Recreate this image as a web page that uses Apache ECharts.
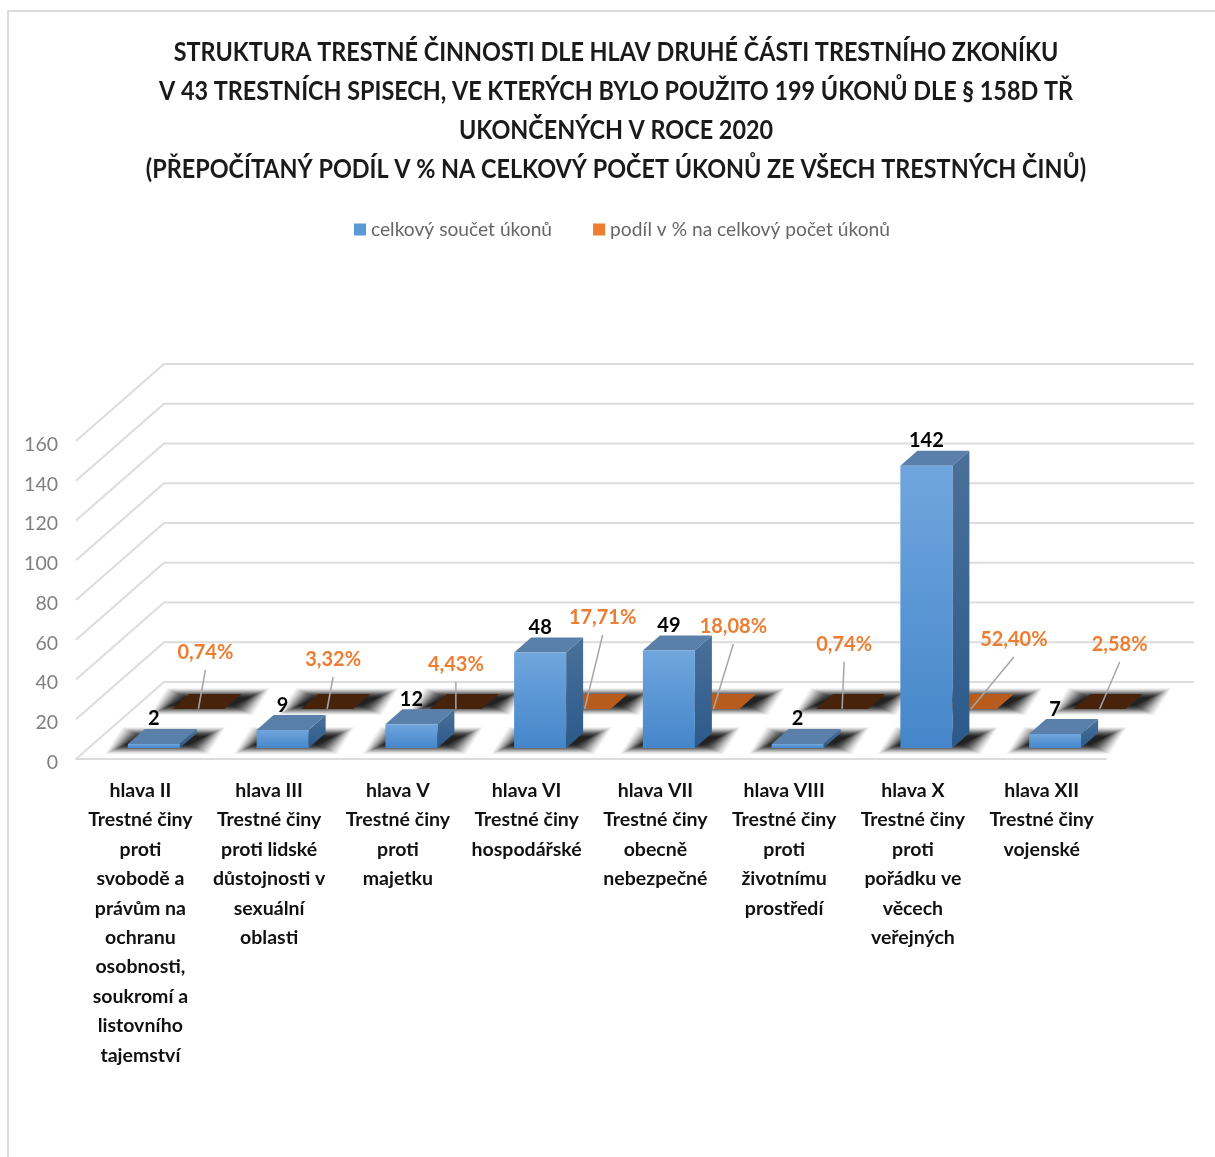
<!DOCTYPE html>
<html><head><meta charset="utf-8">
<style>html,body{margin:0;padding:0;background:#fff}#c{width:1215px;height:1157px}#c canvas{filter:blur(.4px)}</style>
<script src="https://cdn.jsdelivr.net/npm/echarts@6/dist/echarts.min.js"></script>
</head><body><div id="c"></div>
<script>
const titleText = 'STRUKTURA TRESTNÉ ČINNOSTI DLE HLAV DRUHÉ ČÁSTI TRESTNÍHO ZKONÍKU\nV 43 TRESTNÍCH SPISECH, VE KTERÝCH BYLO POUŽITO 199 ÚKONŮ DLE § 158D TŘ\nUKONČENÝCH V ROCE 2020\n(PŘEPOČÍTANÝ PODÍL V % NA CELKOVÝ POČET ÚKONŮ ZE VŠECH TRESTNÝCH ČINŮ)';
const categories = [
 'hlava II\nTrestné činy\nproti\nsvobodě a\nprávům na\nochranu\nosobnosti,\nsoukromí a\nlistovního\ntajemství',
 'hlava III\nTrestné činy\nproti lidské\ndůstojnosti v\nsexuální\noblasti',
 'hlava V\nTrestné činy\nproti\nmajetku',
 'hlava VI\nTrestné činy\nhospodářské',
 'hlava VII\nTrestné činy\nobecně\nnebezpečné',
 'hlava VIII\nTrestné činy\nproti\nživotnímu\nprostředí',
 'hlava X\nTrestné činy\nproti\npořádku ve\nvěcech\nveřejných',
 'hlava XII\nTrestné činy\nvojenské'
];
const totals = [2, 9, 12, 48, 49, 2, 142, 7];
const shares = [0.74, 3.32, 4.43, 17.71, 18.08, 0.74, 52.40, 2.58];
const shareLabels = ['0,74%','3,32%','4,43%','17,71%','18,08%','0,74%','52,40%','2,58%'];
const axisTicks = [0,20,40,60,80,100,120,140,160];
// where each share's callout sits, relative to its floor tile [dx, dy of leader top]
const calloutOffsets = [[7,-39],[6,-32],[0,-27],[18,-74],[20,-65],[2,-47],[43,-52],[20,-47]];

const FONT = 'Lato,"Liberation Sans",sans-serif';
const DEPTH_X = 88, DEPTH_Y = -77;     // floor depth
const BAR_W = 52, SIDE_X = 17, SIDE_Y = -15;
const FRONT = {dx: 13.5, dy: -11};     // front row anchor on the floor
const BACK = {dx: 58, dy: -50};        // back row anchor on the floor

const chart = echarts.init(document.getElementById('c'), null, {renderer:'canvas'});

function poly(points, style, z2){ return {type:'polygon', shape:{points}, style, z2: z2||0, silent:true}; }
function grad(a,b){ return {type:'linear',x:0,y:0,x2:0,y2:1,colorStops:[{offset:0,color:a},{offset:1,color:b}]}; }
function renderGrid(params, api){
  const v = api.value(0), p = api.coord([0, v]), r = params.coordSys;
  const xL = r.x, y = p[1];
  return {type:'polyline', silent:true, z2:-5,
    shape:{points:[[xL,y],[xL+DEPTH_X,y+DEPTH_Y],[xL+r.width+DEPTH_X,y+DEPTH_Y]]},
    style:{stroke:'#dcdcdc',lineWidth:2,fill:'none'}};
}
// soft floor shadow: stacked translucent parallelograms that fade outwards
function floorShadow(x,y,z){
  const out = [], layers = 18;
  for (let k = layers; k >= 1; k--) {
    const t = k/layers;
    const px = 4 + t*22, py = -4 + t*10, s = 3;
    const a = 0.03 + (1-t)*0.18;
    out.push(poly([[x-px+s,y+py],[x+BAR_W+px+s,y+py],[x+BAR_W+SIDE_X+px+s,y+SIDE_Y-py],[x+SIDE_X-px+s,y+SIDE_Y-py]],
      {fill:'rgba(10,10,10,'+a+')'},z));
  }
  return out;
}
function renderTotals(params, api){
  const i = api.value(0), v = api.value(1);
  const base = api.coord([i,0]), top = api.coord([i,v]);
  const x = base[0]+FRONT.dx-BAR_W/2, yb = base[1]+FRONT.dy, yt = top[1]+FRONT.dy;
  const x2 = x+BAR_W;
  return {type:'group', children:floorShadow(x,yb,10).concat([
    poly([[x2,yb],[x2+SIDE_X,yb+SIDE_Y],[x2+SIDE_X,yt+SIDE_Y],[x2,yt]],{fill:grad('#4a7099','#2b5a8a')},11),
    poly([[x,yt],[x2,yt],[x2+SIDE_X,yt+SIDE_Y],[x+SIDE_X,yt+SIDE_Y]],{fill:'#5a7fa9'},11),
    {type:'rect',shape:{x,y:yt,width:BAR_W,height:yb-yt},style:{fill:grad('#70a6de','#4586ca')},z2:11,silent:true},
    {type:'text',z2:13,silent:true,style:{text:String(v),x:x+BAR_W/2,y:yt+SIDE_Y-10,align:'center',verticalAlign:'middle',
      fill:'#000',font:'bold 20px '+FONT}}
  ])};
}
function renderShares(params, api){
  const i = api.value(0), v = api.value(1);
  const base = api.coord([i,0]);
  const x = base[0]+BACK.dx-BAR_W/2, y = base[1]+BACK.dy;
  const off = calloutOffsets[i], cx = x+BAR_W/2;
  return {type:'group', children:floorShadow(x,y,0).concat([
    poly([[x,y],[x+BAR_W,y],[x+BAR_W+SIDE_X,y+SIDE_Y],[x+SIDE_X,y+SIDE_Y]],{fill: v>=10 ? '#b85c1e' : '#47230c'},1),
    {type:'line',silent:true,z2:2,shape:{x1:cx,y1:y,x2:cx+off[0],y2:y+off[1]},style:{stroke:'#a6a6a6',lineWidth:1.5}},
    {type:'text',z2:3,silent:true,style:{text:shareLabels[i],x:cx+off[0],y:y+off[1]-17,align:'center',verticalAlign:'middle',
      fill:'#ed7d31',font:'bold 20px '+FONT}}
  ])};
}

chart.setOption({
  animation:false,
  backgroundColor:'#fff',
  legend:{
    left:349, top:215, itemWidth:12, itemHeight:12, itemGap:41, icon:'rect', selectedMode:false,
    data:['celkový součet úkonů','podíl v % na celkový počet úkonů'],
    textStyle:{fontFamily:FONT,fontSize:19.2,color:'#666'}
  },
  grid:{left:76,top:441,width:1030,height:318,containLabel:false},
  xAxis:{type:'category',data:categories,
    axisLine:{show:true,lineStyle:{color:'#dcdcdc',width:2}},axisTick:{show:false},
    axisLabel:{interval:0,margin:17,fontFamily:FONT,fontWeight:'bold',fontSize:19.5,lineHeight:29.4,color:'#111',verticalAlign:'top'}},
  yAxis:{type:'value',min:0,max:160,interval:20,
    axisLine:{show:false},axisTick:{show:false},splitLine:{show:false},
    axisLabel:{margin:18,fontFamily:FONT,fontSize:19.5,color:'#7f7f7f',verticalAlign:'top',lineHeight:7}},
  series:[
    {type:'custom',name:'mřížka',z:2,silent:true,renderItem:renderGrid,data:axisTicks.map(v=>[v]),encode:{y:0}},
    {type:'custom',name:'podíl v % na celkový počet úkonů',z:2,silent:true,renderItem:renderShares,
      itemStyle:{color:'#ed7d31'},data:shares.map((v,i)=>[i,v]),encode:{x:0,y:1}},
    {type:'custom',name:'celkový součet úkonů',z:2,silent:true,renderItem:renderTotals,
      itemStyle:{color:'#5b9bd5'},data:totals.map((v,i)=>[i,v]),encode:{x:0,y:1}}
  ],
  graphic:[
    {type:'polyline',silent:true,shape:{points:[[8,1157],[8,11],[1215,11]]},style:{stroke:'#dcdcdc',lineWidth:2,fill:'none'}},
    {type:'text',silent:true,x:616,y:33,scaleX:0.866,style:{text:titleText,align:'center',verticalAlign:'top',
      font:'bold 27px '+FONT,lineHeight:39,fill:'#1a1a1a'}}
  ]
});
</script></body></html>
